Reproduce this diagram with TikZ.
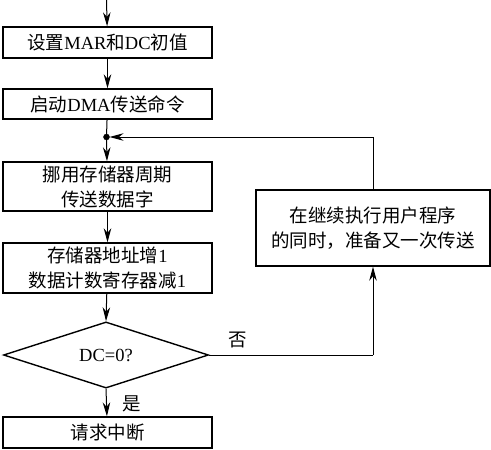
\documentclass[tikz,border=0pt]{standalone}
\usepackage{fontspec}
\setmainfont{Liberation Serif}
\newfontfamily\cjk{Noto Sans CJK SC}
\usetikzlibrary{shapes.geometric,arrows.meta}

\begin{document}
\begin{tikzpicture}[x=1pt,y=-1pt,
  font=\fontsize{18.5pt}{25pt}\selectfont,
  stepbox/.style={draw,line width=1.4pt,inner sep=0pt,align=center,
    minimum width=209pt},
  flow/.style={line width=1pt,-{Stealth[length=14pt,width=7.5pt]}},
  link/.style={line width=1pt}]

\useasboundingbox (0,0) rectangle (491,450) ;

\coordinate (entry) at (106.5,0) ;
\node [stepbox, minimum height=31pt] (init) at (107.5,42.5)
  {{\cjk 设置}MAR{\cjk 和}DC{\cjk 初值}} ;
\node [stepbox, minimum height=30pt] (start) at (107.5,104)
  {{\cjk 启动}DMA{\cjk 传送命令}} ;
\node [stepbox, minimum height=49pt] (steal) at (107.5,186.5)
  {\cjk 挪用存储器周期\\ \cjk 传送数据字} ;
\node [stepbox, minimum height=50pt] (count) at (107.5,268)
  {{\cjk 存储器地址增}1\\ {\cjk 数据计数寄存器减}1} ;
\node [draw, diamond, line width=1.4pt, inner sep=0pt,
  minimum width=205pt, minimum height=64pt] (test) at (106,355) {DC=0?} ;
\node [stepbox, minimum height=31pt] (irq) at (107.5,432.5)
  {\cjk 请求中断} ;
\node [stepbox, minimum width=234pt, minimum height=76pt] (user) at (373,228)
  {\cjk 在继续执行用户程序\\ \cjk 的同时，准备又一次传送} ;

\coordinate (join) at (106.5,137) ;
\coordinate (turn) at (373,355) ;

% main flow
\draw [flow] (entry) -- (init) ;
\draw [flow] (init) -- (start) ;
\draw [link] (start) -- (join) ;
\draw [flow] (join) -- (steal) ;
\draw [flow] (steal) -- (count) ;
\draw [flow] (count) -- (test.north) ;
\draw [flow] (test.south) -- (irq) ;

% loop back
\draw [link] (test.east) -- (turn) ;
\draw [flow] (turn) -- (user.south) ;
\draw [flow, shorten >=3pt] (user.north) |- (join) ;
\draw [fill] (join) circle [radius=3pt] ;

\node at (132,404) {\cjk 是} ;
\node at (238,340) {\cjk 否} ;

\end{tikzpicture}
\end{document}
